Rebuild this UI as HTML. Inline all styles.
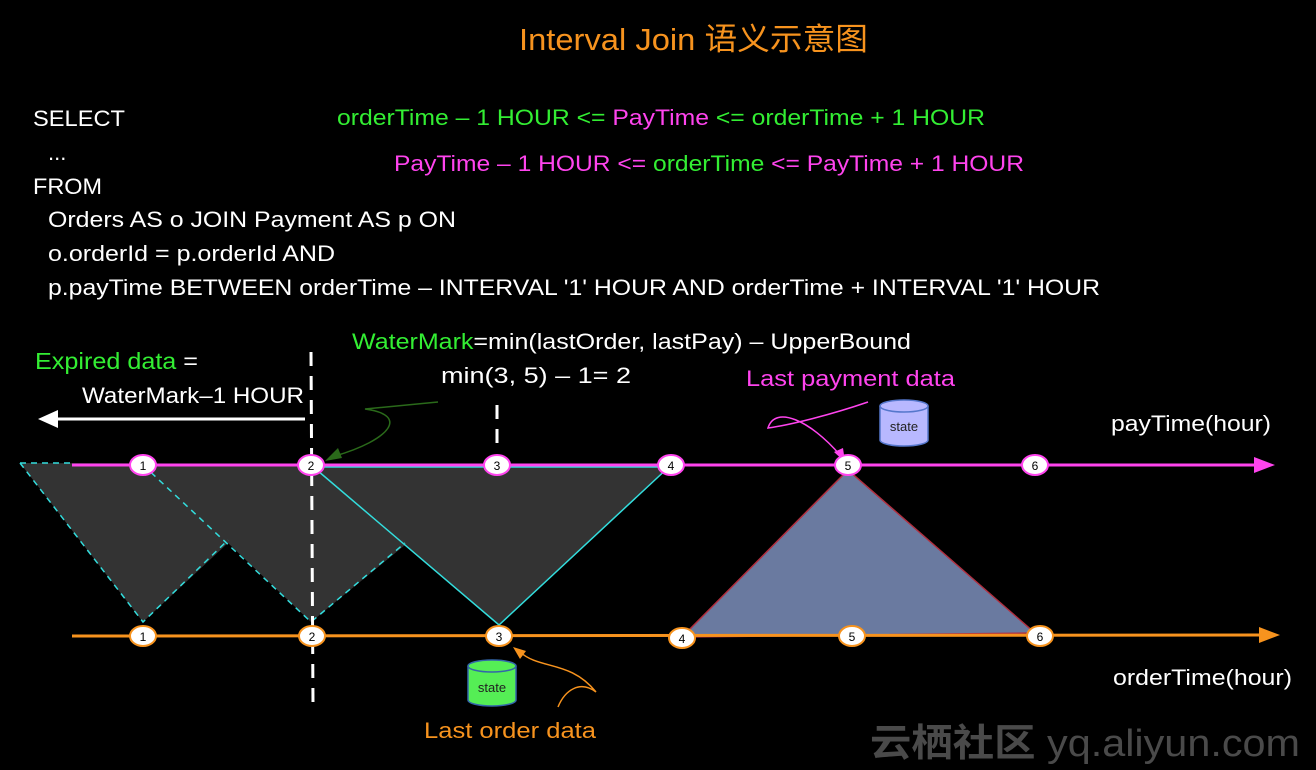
<!DOCTYPE html>
<html><head><meta charset="utf-8"><style>
html,body{margin:0;padding:0;background:#000;}
svg{display:block;}
text{font-family:"Liberation Sans","Noto Sans CJK SC",sans-serif;}
</style></head><body>
<svg width="1316" height="770" viewBox="0 0 1316 770" xmlns="http://www.w3.org/2000/svg">
<rect width="1316" height="770" fill="#000"/>
<text x="519" y="50" font-size="31" fill="#f7931e" textLength="349" lengthAdjust="spacingAndGlyphs">Interval Join 语义示意图</text>

<g font-size="22" fill="#fff">
<text x="33" y="126" textLength="92" lengthAdjust="spacingAndGlyphs">SELECT</text>
<text x="48" y="160">...</text>
<text x="33" y="194" textLength="69" lengthAdjust="spacingAndGlyphs">FROM</text>
<text x="48" y="227" textLength="408" lengthAdjust="spacingAndGlyphs">Orders AS o JOIN Payment AS p ON</text>
<text x="48" y="261" textLength="287" lengthAdjust="spacingAndGlyphs">o.orderId = p.orderId AND</text>
<text x="48" y="295" textLength="1052" lengthAdjust="spacingAndGlyphs">p.payTime BETWEEN orderTime – INTERVAL '1' HOUR AND  orderTime + INTERVAL '1' HOUR</text>
</g>
<text x="337" y="125" font-size="22" textLength="648" lengthAdjust="spacingAndGlyphs"><tspan fill="#33ee33">orderTime – 1 HOUR &lt;= </tspan><tspan fill="#ff44ee">PayTime</tspan><tspan fill="#33ee33"> &lt;= orderTime + 1 HOUR</tspan></text>
<text x="394" y="171" font-size="22" textLength="630" lengthAdjust="spacingAndGlyphs"><tspan fill="#ff44ee">PayTime – 1 HOUR &lt;= </tspan><tspan fill="#33ee33">orderTime</tspan><tspan fill="#ff44ee"> &lt;= PayTime + 1 HOUR</tspan></text>

<text x="352" y="349" font-size="22" textLength="559" lengthAdjust="spacingAndGlyphs"><tspan fill="#33ee33">WaterMark</tspan><tspan fill="#fff">=min(lastOrder, lastPay) – UpperBound</tspan></text>
<text x="441" y="383" font-size="22" fill="#fff" textLength="190" lengthAdjust="spacingAndGlyphs">min(3, 5) – 1= 2</text>
<text x="35" y="369" font-size="23" textLength="163" lengthAdjust="spacingAndGlyphs"><tspan fill="#33ee33">Expired data</tspan><tspan fill="#fff"> =</tspan></text>
<text x="82" y="403" font-size="22" fill="#fff" textLength="222" lengthAdjust="spacingAndGlyphs">WaterMark–1 HOUR</text>
<text x="746" y="386" font-size="22" fill="#ff44ee" textLength="209" lengthAdjust="spacingAndGlyphs">Last payment data</text>
<text x="1111" y="431" font-size="22" fill="#fff" textLength="160" lengthAdjust="spacingAndGlyphs">payTime(hour)</text>
<text x="1113" y="685" font-size="22" fill="#fff" textLength="179" lengthAdjust="spacingAndGlyphs">orderTime(hour)</text>
<text x="424" y="738" font-size="22" fill="#f7931e" textLength="172" lengthAdjust="spacingAndGlyphs">Last order data</text>
<text x="870" y="756" font-size="38" fill="#4a4a4a" font-weight="bold" textLength="430" lengthAdjust="spacingAndGlyphs">云栖社区 <tspan font-weight="normal">yq.aliyun.com</tspan></text>

<!-- gray region -->
<polygon points="20,463 143,622 228,543 311,622 405,545 499,625 671,465" fill="#333"/>
<g stroke="#33dddd" stroke-width="1.5" fill="none">
<path d="M20,463 L72,463 M20,463 L143,622 L228,540 M143,465 L311,622 L405,543" stroke-dasharray="6,5"/>
<path d="M311,465 L499,625 L671,465 M311,467 L671,467"/>
</g>
<polygon points="848,470 682,637 1035,633" fill="#6a7aa0" stroke="#b03040" stroke-width="1.5"/>

<!-- axes -->
<line x1="72" y1="465" x2="1258" y2="465" stroke="#ff44ee" stroke-width="3"/>
<polygon points="1275,465 1254,457 1254,473" fill="#ff44ee"/>
<line x1="72" y1="636" x2="1262" y2="635" stroke="#f7931e" stroke-width="3"/>
<polygon points="1280,635 1259,627 1259,643" fill="#f7931e"/>

<!-- dashed verticals -->
<line x1="311" y1="352" x2="313" y2="705" stroke="#fff" stroke-width="3" stroke-dasharray="14,10"/>
<line x1="497" y1="405" x2="497" y2="450" stroke="#fff" stroke-width="3" stroke-dasharray="14,10"/>
<!-- white arrow -->
<line x1="305" y1="419" x2="55" y2="419" stroke="#fff" stroke-width="3"/>
<polygon points="38,419 58,410 58,428" fill="#fff"/>

<!-- curved arrows -->
<path d="M438,402 L365,409 C410,415 390,440 335,456" stroke="#2a6a1a" stroke-width="1.5" fill="none"/>
<polygon points="325,461 338,448 342,458" fill="#2a6a1a"/>
<path d="M868,402 C830,415 790,425 768,428 C775,405 810,420 840,455" stroke="#ff44ee" stroke-width="1.5" fill="none"/>
<polygon points="845,462 834,452 843,448" fill="#ff44ee"/>
<path d="M596,692 C580,680 565,690 558,707 M596,692 C570,660 540,670 520,652" stroke="#f7931e" stroke-width="1.5" fill="none"/>
<polygon points="513,647 526,651 520,659" fill="#f7931e"/>

<!-- state cylinders -->
<g>
<path d="M880,406 L880,440 A24,6 0 0 0 928,440 L928,406" fill="#b8b8ff" stroke="#5577cc" stroke-width="1.5"/>
<ellipse cx="904" cy="406" rx="24" ry="6" fill="#b8b8ff" stroke="#5577cc" stroke-width="1.5"/>
<text x="904" y="431" font-size="13" fill="#222" text-anchor="middle">state</text>
</g>
<g>
<path d="M468,666 L468,700 A24,6 0 0 0 516,700 L516,666" fill="#55ee55" stroke="#3366aa" stroke-width="1.5"/>
<ellipse cx="492" cy="666" rx="24" ry="6" fill="#55ee55" stroke="#3366aa" stroke-width="1.5"/>
<text x="492" y="692" font-size="13" fill="#222" text-anchor="middle">state</text>
</g>

<!-- nodes -->
<g font-size="12" text-anchor="middle" fill="#000">
<g stroke="#ff44ee" stroke-width="2" fill="#fff">
<ellipse cx="143" cy="465" rx="13" ry="10"/><ellipse cx="311" cy="465" rx="13" ry="10"/><ellipse cx="497" cy="465" rx="13" ry="10"/><ellipse cx="671" cy="465" rx="13" ry="10"/><ellipse cx="848" cy="465" rx="13" ry="10"/><ellipse cx="1035" cy="465" rx="13" ry="10"/>
</g>
<text x="143" y="470">1</text><text x="311" y="470">2</text><text x="497" y="470">3</text><text x="671" y="470">4</text><text x="848" y="470">5</text><text x="1035" y="470">6</text>
<g stroke="#f7931e" stroke-width="2" fill="#fff">
<ellipse cx="143" cy="636" rx="13" ry="10"/><ellipse cx="312" cy="636" rx="13" ry="10"/><ellipse cx="499" cy="636" rx="13" ry="10"/><ellipse cx="682" cy="638" rx="13" ry="10"/><ellipse cx="852" cy="636" rx="13" ry="10"/><ellipse cx="1040" cy="636" rx="13" ry="10"/>
</g>
<text x="143" y="641">1</text><text x="312" y="641">2</text><text x="499" y="641">3</text><text x="682" y="643">4</text><text x="852" y="641">5</text><text x="1040" y="641">6</text>
</g>
</svg>
</body></html>
